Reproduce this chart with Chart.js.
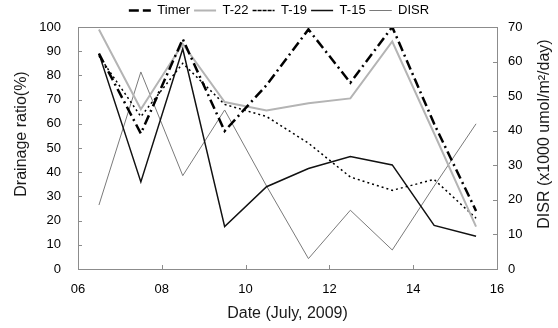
<!DOCTYPE html>
<html>
<head>
<meta charset="utf-8">
<script src="https://cdn.jsdelivr.net/npm/chart.js@4.4.0/dist/chart.umd.min.js"></script>
<style>
    html, body { margin: 0; padding: 0; background: #fff; }
    #wrap { width: 558px; height: 328px; }
</style>
</head>
<body>
<div id="wrap"><canvas id="chart-line"></canvas></div>
<script>
// data (July 2009)
var days = [6.5, 7.5, 8.5, 9.5, 10.5, 11.5, 12.5, 13.5, 14.5, 15.5];
var timer = [89, 56, 95, 57, 76, 99, 77, 100, 60, 24];
var t22 = [99, 66, 93, 69, 65.5, 68.5, 70.5, 94, 56, 17.5];
var t19 = [88, 63, 85, 68, 63, 52, 38, 32.5, 37, 21];
var t15 = [89, 36, 91, 17.5, 34, 41.5, 46.5, 43, 18, 13.5];
var disr = [18.5, 57, 27, 46, 24, 3, 17, 5.5, 24, 42];

var leftTitle = "Drainage ratio(%)";
var rightTitle = "DISR (x1000 umol/m\u00B2/day)";
var xTitle = "Date (July, 2009)";

function points(values) {
    return values.map(function(v, i) { return { x: days[i], y: v }; });
}

var fontFamily = "'Liberation Sans', Arial, sans-serif";

// frame, inward ticks and the two side titles
var framePlugin = {
    id: 'frame',
    afterDraw: function(chart) {
        var ctx = chart.ctx;
        var a = chart.chartArea;
        ctx.save();
        ctx.strokeStyle = '#8c8c8c';
        ctx.lineWidth = 1;
        ctx.strokeRect(a.left + 0.5, a.top + 0.5, a.right - a.left, a.bottom - a.top);

        var len = 4;
        ctx.beginPath();
        chart.scales.x.ticks.forEach(function(t) {
            var px = Math.round(chart.scales.x.getPixelForValue(t.value)) + 0.5;
            ctx.moveTo(px, a.bottom);
            ctx.lineTo(px, a.bottom - len);
        });
        chart.scales.y.ticks.forEach(function(t) {
            var py = Math.round(chart.scales.y.getPixelForValue(t.value)) + 0.5;
            ctx.moveTo(a.left, py);
            ctx.lineTo(a.left + len, py);
        });
        chart.scales.y1.ticks.forEach(function(t) {
            var py = Math.round(chart.scales.y1.getPixelForValue(t.value)) + 0.5;
            ctx.moveTo(a.right, py);
            ctx.lineTo(a.right - len, py);
        });
        ctx.stroke();

        ctx.fillStyle = '#1a1a1a';
        ctx.font = "16px " + fontFamily;
        ctx.textAlign = 'center';
        ctx.textBaseline = 'middle';
        ctx.translate(22, 134);
        ctx.rotate(-Math.PI / 2);
        ctx.fillText(leftTitle, 0, 0);
        ctx.restore();

        ctx.save();
        ctx.fillStyle = '#1a1a1a';
        ctx.font = "16px " + fontFamily;
        ctx.textAlign = 'center';
        ctx.textBaseline = 'middle';
        ctx.translate(545, 134);
        ctx.rotate(-Math.PI / 2);
        ctx.fillText(rightTitle, 0, 0);
        ctx.restore();
    }
};

var ctx = document.getElementById("chart-line").getContext("2d");

window.chart = new Chart(ctx, {
    type: "line",
    data: {
        datasets: [{
            label: "Timer",
            data: points(timer),
            borderColor: "#000",
            backgroundColor: "#000",
            borderWidth: 2.5,
            borderDash: [10, 4, 2, 4],
        }, {
            label: "T-22",
            data: points(t22),
            borderColor: "#b4b4b4",
            backgroundColor: "#b4b4b4",
            borderWidth: 2,
        }, {
            label: "T-19",
            data: points(t19),
            borderColor: "#000",
            backgroundColor: "#000",
            borderWidth: 1.5,
            borderDash: [2, 3],
        }, {
            label: "T-15",
            data: points(t15),
            borderColor: "#111",
            backgroundColor: "#111",
            borderWidth: 1.5,
        }, {
            label: "DISR",
            data: points(disr),
            borderColor: "#7a7a7a",
            backgroundColor: "#7a7a7a",
            borderWidth: 1,
            yAxisID: "y1",
        }],
    },
    options: {
        responsive: true,
        maintainAspectRatio: false,
        animation: false,
        layout: { padding: 0 },
        elements: {
            point: { radius: 0 },
            line: { tension: 0, fill: false },
        },
        plugins: {
            legend: {
                display: true,
                position: 'top',
                labels: {
                    boxWidth: 22,
                    boxHeight: 0,
                    padding: 4,
                    color: '#000',
                    font: { size: 13, family: fontFamily },
                }
            },
            tooltip: { enabled: false },
        },
        scales: {
            x: {
                type: 'linear',
                min: 6,
                max: 16,
                afterFit: function(scale) { scale.height = 59; },
                border: { display: false },
                grid: { display: false, drawTicks: false },
                ticks: {
                    stepSize: 2,
                    padding: 13,
                    color: '#000',
                    maxRotation: 0,
                    font: { size: 13, family: fontFamily },
                    callback: function(v) { return (v < 10 ? '0' : '') + v; }
                },
                title: {
                    display: true,
                    text: xTitle,
                    color: '#1a1a1a',
                    padding: { top: 0, bottom: 5 },
                    font: { size: 16, family: fontFamily },
                }
            },
            y: {
                position: 'left',
                min: 0,
                max: 100,
                afterFit: function(scale) { scale.width = 78; },
                border: { display: false },
                grid: { display: false, drawTicks: false },
                ticks: {
                    stepSize: 10,
                    padding: 17,
                    color: '#000',
                    font: { size: 13, family: fontFamily },
                }
            },
            y1: {
                position: 'right',
                min: 0,
                max: 70,
                afterFit: function(scale) { scale.width = 61; },
                border: { display: false },
                grid: { display: false, drawTicks: false },
                ticks: {
                    stepSize: 10,
                    padding: 11,
                    color: '#000',
                    font: { size: 13, family: fontFamily },
                }
            },
        },
    },
    plugins: [framePlugin],
});
</script>
</body>
</html>
